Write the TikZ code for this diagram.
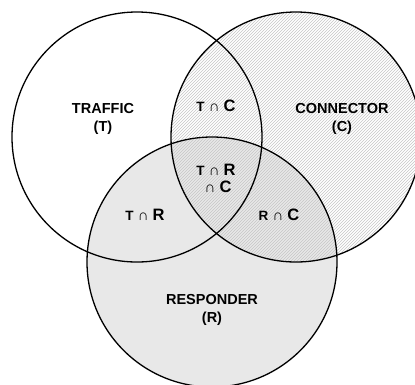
\documentclass[tikz,border=0pt]{standalone}
\usepackage{fontspec}
\setmainfont{Liberation Sans}
\usetikzlibrary{patterns}

\newcommand{\inter}[2]{{\fontsize{13.5}{15}\selectfont #1}{\fontseries{m}\fontsize{15}{15}\selectfont\ ∩\ }{\fontsize{16.5}{18}\selectfont #2}}

\begin{document}
\begin{tikzpicture}[x=1pt,y=-1pt,ring/.style={line width=1.3pt},
  lab/.style={every node/.style={align=center,font=\bfseries\fontsize{14.5}{18}\selectfont}}]
  \useasboundingbox (0,0) rectangle (415,384);
  \fill[gray!18] (212,262) circle (125);
  \fill[pattern=north east lines,pattern color=gray!45] (296,137) circle (125);
  \draw[ring] (137,137) circle (125);
  \draw[ring] (296,137) circle (125);
  \draw[ring] (212,262) circle (125);

  \path[lab] (103,119) node (traffic) {TRAFFIC\\(T)}
             (342,119) node (connector) {CONNECTOR\\(C)}
             (212,310) node (responder) {RESPONDER\\(R)};
  \path[lab] (216,106) node (tc) {\inter{T}{C}}
             (145,215) node (tr) {\inter{T}{R}}
             (279,215) node (rc) {\inter{R}{C}}
             (216,178) node (trc) {\inter{T}{R}\\[-1pt]\inter{}{C}};
\end{tikzpicture}
\end{document}
